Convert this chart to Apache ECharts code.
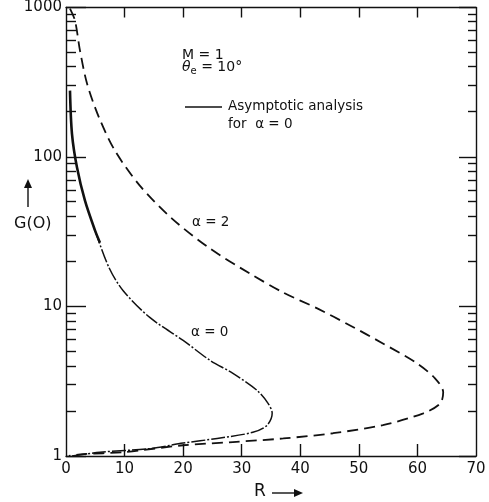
<!DOCTYPE html>
<html>
<head>
<meta charset="utf-8">
<script src="https://cdn.jsdelivr.net/npm/echarts@6/dist/echarts.min.js"></script>
<style>
  html, body {margin: 0; padding: 0; background: #fff;}
  #chart {width: 489px; height: 502px;}
</style>
</head>
<body>
<div id="chart"></div>
<script>
// alpha = 2, dashed curve (R, G(0))
var alpha2R = [0.68, 1.54, 2.39, 3.59, 5.63, 8.37, 12.6, 18.1, 24.6, 31.4, 37.1, 42.9, 48.5, 54.1, 59.9, 63.0, 64.4, 63.9, 61.0, 54.1, 45.6, 37.1, 28.5, 20.0, 9.7, 2.9, 0.5]
var alpha2G = [984, 817, 515, 310, 184, 110, 64.4, 38.7, 24.4, 16.6, 12.4, 9.71, 7.47, 5.66, 4.17, 3.31, 2.67, 2.25, 1.93, 1.61, 1.42, 1.31, 1.24, 1.18, 1.06, 1.03, 1.0]

// alpha = 0, numerical curve
var alpha0R = [4.95, 7.34, 9.73, 14.3, 20.0, 24.6, 28.5, 32.6, 34.5, 35.2, 34.3, 31.9, 25.8, 20.0, 14.3, 5.8, 1.0]
var alpha0G = [32.3, 18.2, 12.8, 8.45, 5.93, 4.36, 3.57, 2.75, 2.25, 1.93, 1.60, 1.44, 1.31, 1.22, 1.12, 1.06, 1.0]

// asymptotic analysis for alpha = 0
var asymR = [0.68, 1.02, 1.88, 3.24, 4.95, 5.8]
var asymG = [278, 143, 85, 51, 32.3, 26.7]

var xTicks = [0, 10, 20, 30, 40, 50, 60, 70]
var yMinor = [2, 3, 4, 5, 6, 7, 8, 9, 20, 30, 40, 50, 60, 70, 80, 90, 200, 300, 400, 500, 600, 700, 800, 900]
var yMajor = [1, 10, 100, 1000]

function pairs(xs, ys) {
  var out = []
  for (var i = 0; i < xs.length; i++) out.push([xs[i], ys[i]])
  return out
}

var font = 'DejaVu Sans'
var ink = '#111'

var chart = echarts.init(document.getElementById('chart'), null, {renderer: 'canvas'})

var box = {left: 66, right: 13, top: 7, bottom: 46}
var lineAxis = {show: true, onZero: false, lineStyle: {color: ink, width: 1.4}}
function ticks(len, vals) {
  return {show: true, inside: true, length: len, lineStyle: {color: ink, width: 1.4}, customValues: vals}
}

var option = {
  animation: false,
  backgroundColor: '#fff',
  grid: [box, box],
  xAxis: [
    {gridIndex: 0, type: 'value', min: 0, max: 70, interval: 10, position: 'bottom',
      axisLine: lineAxis, axisTick: ticks(12, xTicks.slice(1, -1)), splitLine: {show: false},
      axisLabel: {color: ink, fontFamily: font, fontSize: 15, margin: 6, customValues: xTicks}},
    {gridIndex: 0, type: 'value', min: 0, max: 70, interval: 10, position: 'top',
      axisLine: lineAxis, axisTick: ticks(10, xTicks.slice(1, -1)), splitLine: {show: false}, axisLabel: {show: false}},
    {gridIndex: 1, type: 'value', min: 0, max: 70, show: false}
  ],
  yAxis: [
    {gridIndex: 0, type: 'log', min: 1, max: 1000, logBase: 10, position: 'left',
      axisLine: lineAxis, splitLine: {show: false}, axisTick: ticks(20, yMajor),
      axisLabel: {color: ink, fontFamily: font, fontSize: 15, margin: 4, customValues: yMajor,
        formatter: function (v) { return String(Math.round(v)) }}},
    {gridIndex: 0, type: 'log', min: 1, max: 1000, logBase: 10, position: 'right',
      axisLine: lineAxis, splitLine: {show: false}, axisTick: ticks(17, yMajor), axisLabel: {show: false}},
    {gridIndex: 1, type: 'log', min: 1, max: 1000, logBase: 10, position: 'left',
      axisLine: {show: false}, splitLine: {show: false}, axisTick: ticks(10, yMinor), axisLabel: {show: false}},
    {gridIndex: 1, type: 'log', min: 1, max: 1000, logBase: 10, position: 'right',
      axisLine: {show: false}, splitLine: {show: false}, axisTick: ticks(8, yMinor), axisLabel: {show: false}}
  ],
  series: [
    {name: 'α = 2', type: 'line', symbol: 'none', smooth: 0.3, data: pairs(alpha2R, alpha2G),
      lineStyle: {color: ink, width: 1.8, type: [11, 6]}},
    {name: 'α = 0', type: 'line', symbol: 'none', smooth: 0.3, data: pairs(alpha0R, alpha0G),
      lineStyle: {color: ink, width: 1.5, type: [14, 2, 2, 2]}},
    {name: 'Asymptotic analysis for α = 0', type: 'line', symbol: 'none', smooth: 0.3, data: pairs(asymR, asymG),
      lineStyle: {color: ink, width: 2.6}}
  ],
  graphic: [
    {type: 'text', left: 182, top: 48, style: {text: 'M = 1', font: '14px ' + font, fill: ink}},
    {type: 'text', left: 182, top: 60, style: {text: '{t|θ}{s|e} = 10°', fill: ink,
      rich: {t: {font: 'italic 14px ' + font, fill: ink}, s: {font: '10px ' + font, fill: ink, padding: [8, 0, 0, 0]}},
      font: '14px ' + font}},
    {type: 'line', shape: {x1: 185, y1: 107, x2: 222, y2: 107}, style: {stroke: ink, lineWidth: 1.6}},
    {type: 'text', left: 228, top: 99, style: {text: 'Asymptotic analysis', font: '13.5px ' + font, fill: ink}},
    {type: 'text', left: 228, top: 117, style: {text: 'for  α = 0', font: '13.5px ' + font, fill: ink}},
    {type: 'text', left: 192, top: 215, style: {text: 'α = 2', font: '13.5px ' + font, fill: ink}},
    {type: 'text', left: 191, top: 325, style: {text: 'α = 0', font: '13.5px ' + font, fill: ink}},
    {type: 'text', left: 14, top: 216, style: {text: 'G(O)', font: '16px ' + font, fill: ink}},
    {type: 'line', shape: {x1: 28, y1: 207, x2: 28, y2: 183}, style: {stroke: ink, lineWidth: 1.4}},
    {type: 'polygon', shape: {points: [[24, 188], [32, 188], [28, 179]]}, style: {fill: ink}},
    {type: 'text', left: 254, top: 483, style: {text: 'R', font: '17px ' + font, fill: ink}},
    {type: 'line', shape: {x1: 272, y1: 493, x2: 296, y2: 493}, style: {stroke: ink, lineWidth: 1.4}},
    {type: 'polygon', shape: {points: [[294, 489], [294, 497], [303, 493]]}, style: {fill: ink}}
  ]
}

chart.setOption(option)
</script>
</body>
</html>
